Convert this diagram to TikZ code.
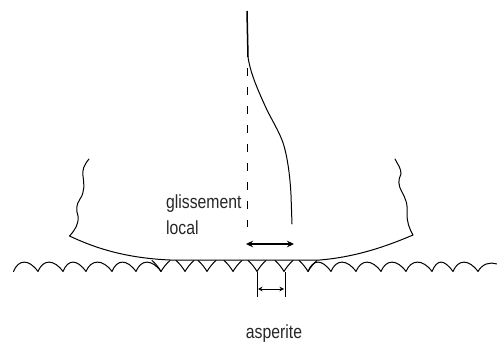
\documentclass[tikz,border=0pt]{standalone}
\usepackage{fontspec}
\setmainfont{Liberation Sans}
\usetikzlibrary{arrows.meta}
\tikzset{
  ink/.style={draw=black,line width=1pt,line cap=round,line join=round},
  dblarrow/.style={draw=black,line width=1.1pt,{Stealth[length=7pt,width=6.5pt]}-{Stealth[length=7pt,width=6.5pt]}},
  smallarrow/.style={draw=black,line width=0.7pt,{Stealth[length=4.5pt,width=4.5pt]}-{Stealth[length=4.5pt,width=4.5pt]}},
  lbl/.style={inner sep=0pt,font=\fontsize{19}{22}\selectfont,xscale=0.83,text=black!85}
}
\begin{document}
\begin{tikzpicture}[x=1pt,y=-1pt]
\useasboundingbox (0,0) rectangle (497,344);
% rough surface, left part
\draw[ink] (13.5,271.5)
  \foreach \a/\b in {13.5/38,38/63,63/86,86/112,112/136,136/161}{
    .. controls (\a+5,259) and (\b-9,259) .. (\b,271.5)
  };
% rough surface, right part
\draw[ink] (308,271.5)
  \foreach \a/\b in {308/331,331/356,356/381,381/406,406/432,432/453,453/478}{
    .. controls (\a+5,259) and (\b-9,259) .. (\b,271.5)
  }
  .. controls (482,264) and (490,261.5) .. (497,264);
% asperities in contact
\foreach \c in {161,185,207,233,257,284,308}{
  \draw[ink] (\c-9,260.5) .. controls (\c-5,264) and (\c-2,268) .. (\c,271.5)
    .. controls (\c+2,268) and (\c+5,264) .. (\c+9,260.5);
}
% sliding body
\draw[ink] (89,159) .. controls (84,165) and (82,170) .. (83,176)
  .. controls (84,184) and (85,192) .. (80,199)
  .. controls (76,205) and (76,210) .. (78,216)
  .. controls (79,224) and (75,230) .. (69.5,236)
  .. controls (95,248) and (125,258) .. (170,260)
  -- (320,260)
  .. controls (355,257) and (385,247) .. (413,235)
  .. controls (409,228) and (407,222) .. (407,214)
  .. controls (408,203) and (405,198) .. (402,192)
  .. controls (398,185) and (398,180) .. (401,174)
  .. controls (401,168) and (398,165) .. (395,159);
% reference line and deformed profile
\draw[draw=black,line width=1pt,dash pattern=on 8pt off 11pt] (247,68) -- (247,227);
\draw[draw=black,line width=1.5pt] (247,11) -- (248,57);
\draw[ink] (248,57) .. controls (250,70) and (254,82) .. (267,110)
  .. controls (272,120) and (278,130) .. (282,140)
  .. controls (287,153) and (290,175) .. (291,195)
  -- (292,224);
% labels
\node[lbl,anchor=base west] (gl) at (166,209) {glissement};
\node[lbl,anchor=base west] (lo) at (166,235) {local};
\node[lbl,anchor=base] (as) at (274,338) {asperite};
% dimension marks
\coordinate (gA) at (246,244);
\coordinate (gB) at (294,244);
\draw[dblarrow] (gA) -- (gB);
\coordinate (tA) at (257,272);
\coordinate (tB) at (285,272);
\coordinate (bA) at (257,297);
\coordinate (bB) at (285,297);
\draw[draw=black,line width=0.7pt] (tA) -- (bA) (tB) -- (bB);
\draw[smallarrow] (258,289) -- (284,289);
\end{tikzpicture}
\end{document}
